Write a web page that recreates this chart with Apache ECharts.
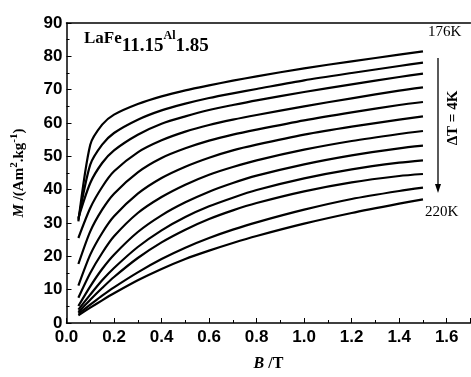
<!DOCTYPE html>
<html>
<head>
<meta charset="utf-8">
<script src="https://cdn.jsdelivr.net/npm/echarts@6/dist/echarts.min.js"></script>
<style>
  html, body { margin: 0; padding: 0; background: #fff; }
  #main { width: 471px; height: 377px; }
</style>
</head>
<body>
<div id="main"></div>
<script>
// 磁场 B (T)
var fields = [0.05, 0.1, 0.15, 0.2, 0.3, 0.4, 0.5, 0.6, 0.7, 0.8, 1.0, 1.2, 1.4, 1.5];
// 温度 176K ~ 220K, 间隔 4K
var temps = [176, 180, 184, 188, 192, 196, 200, 204, 208, 212, 216, 220];
// 各温度的磁化强度 M
var m176 = [30.5, 53.5, 59.5, 62.5, 65.7, 68.0, 69.8, 71.3, 72.7, 74.0, 76.4, 78.5, 80.5, 81.5];
var m180 = [31.0, 47.5, 53.5, 57.0, 61.0, 63.8, 65.8, 67.5, 68.9, 70.2, 72.8, 75.0, 77.1, 78.1];
var m184 = [31.5, 42.0, 48.0, 51.8, 56.5, 59.8, 62.0, 63.9, 65.4, 66.8, 69.3, 71.6, 73.8, 74.8];
var m188 = [25.5, 34.5, 40.8, 45.5, 51.2, 54.8, 57.4, 59.4, 61.0, 62.4, 65.0, 67.4, 69.7, 70.7];
var m192 = [17.7, 27.5, 34.0, 38.8, 45.2, 49.5, 52.4, 54.7, 56.5, 58.0, 60.8, 63.2, 65.4, 66.3];
var m196 = [11.2, 20.5, 27.0, 32.0, 38.8, 43.5, 46.9, 49.6, 51.8, 53.5, 56.5, 58.9, 61.0, 62.0];
var m200 = [7.6, 15.0, 21.0, 26.0, 33.0, 37.8, 41.5, 44.5, 46.8, 48.8, 52.0, 54.6, 56.7, 57.6];
var m204 = [5.1, 11.0, 16.2, 20.5, 27.3, 32.3, 36.2, 39.4, 42.0, 44.2, 47.6, 50.3, 52.4, 53.2];
var m208 = [4.0, 8.5, 12.8, 16.5, 22.8, 27.8, 31.8, 35.0, 37.6, 39.9, 43.4, 46.1, 48.1, 48.8];
var m212 = [3.3, 7.0, 10.5, 13.8, 19.5, 24.2, 28.0, 31.2, 33.8, 36.0, 39.5, 42.2, 44.1, 44.7];
var m216 = [2.8, 5.5, 8.2, 10.7, 15.2, 19.2, 22.6, 25.5, 28.0, 30.2, 34.0, 37.2, 39.6, 40.6];
var m220 = [2.3, 4.6, 6.8, 8.9, 12.8, 16.2, 19.2, 21.7, 24.0, 26.1, 29.8, 33.0, 35.8, 37.1];
var curves = [m176, m180, m184, m188, m192, m196, m200, m204, m208, m212, m216, m220];

var serif = '"Liberation Serif", "DejaVu Serif", serif';
var sans = '"Liberation Sans", Arial, sans-serif';

var series = curves.map(function (m, i) {
    return {
        name: temps[i] + 'K',
        type: 'line',
        smooth: 0.25,
        showSymbol: false,
        lineStyle: { color: '#000', width: 2.2 },
        data: fields.map(function (b, j) { return [b, m[j]]; })
    };
});

var option = {
    animation: false,
    backgroundColor: '#fff',
    grid: { left: 66.5, right: 0.5, top: 23, bottom: 48 },
    xAxis: [
        {
            type: 'value',
            min: 0, max: 1.7, interval: 0.2,
            name: '{i|B} /T',
            nameLocation: 'middle',
            nameGap: 33,
            nameTextStyle: {
                fontFamily: serif, fontSize: 16, fontWeight: 'bold', color: '#000',
                rich: { i: { fontFamily: serif, fontSize: 16, fontWeight: 'bold', fontStyle: 'italic', color: '#000' } }
            },
            axisLine: { lineStyle: { color: '#000', width: 1.5 } },
            axisTick: { inside: true, length: 5, lineStyle: { color: '#000' } },
            minorTick: { show: true, splitNumber: 2, length: 3, lineStyle: { color: '#000' } },
            splitLine: { show: false },
            axisLabel: {
                showMaxLabel: false, margin: 6,
                fontFamily: sans, fontSize: 17, fontWeight: 'bold', color: '#000',
                formatter: function (v) { return v.toFixed(1); }
            }
        },
        {
            type: 'value', position: 'top', min: 0, max: 1.7,
            axisLine: { show: true, lineStyle: { color: '#000', width: 1.5 } },
            axisTick: { show: false }, axisLabel: { show: false }, splitLine: { show: false }
        }
    ],
    yAxis: {
        type: 'value',
        min: 0, max: 90, interval: 10,
        name: '{i|M} /(Am{sup|2}.kg{sup|-1})',
        nameLocation: 'middle',
        nameGap: 36,
        nameTextStyle: {
            fontFamily: serif, fontSize: 15, fontWeight: 'bold', color: '#000',
            rich: {
                i: { fontFamily: serif, fontSize: 15, fontWeight: 'bold', fontStyle: 'italic', color: '#000' },
                sup: { fontFamily: serif, fontSize: 11, fontWeight: 'bold', color: '#000', verticalAlign: 'top', lineHeight: 22 }
            }
        },
        axisLine: { show: true, lineStyle: { color: '#000', width: 1.5 } },
        axisTick: { inside: true, length: 5, lineStyle: { color: '#000' } },
        minorTick: { show: true, splitNumber: 2, length: 3, lineStyle: { color: '#000' } },
        splitLine: { show: false },
        axisLabel: { margin: 4, fontFamily: sans, fontSize: 17, fontWeight: 'bold', color: '#000' }
    },
    graphic: [
        {
            type: 'text', left: 84, top: 30,
            style: {
                text: '{a|LaFe}{b|11.15}{c|Al}{b|1.85}',
                rich: {
                    a: { fontFamily: serif, fontSize: 17, fontWeight: 'bold', fill: '#000', verticalAlign: 'top', lineHeight: 18 },
                    b: { fontFamily: serif, fontSize: 19, fontWeight: 'bold', fill: '#000', verticalAlign: 'bottom', lineHeight: 26 },
                    c: { fontFamily: serif, fontSize: 12, fontWeight: 'bold', fill: '#000', verticalAlign: 'top', lineHeight: 14 }
                }
            }
        },
        { type: 'text', left: 428, top: 25, style: { text: '176K', fontFamily: serif, fontSize: 15, fill: '#000' } },
        { type: 'text', left: 425, top: 205, style: { text: '220K', fontFamily: serif, fontSize: 15, fill: '#000' } },
        { type: 'line', shape: { x1: 438, y1: 58, x2: 438, y2: 186 }, style: { stroke: '#000', lineWidth: 1.3 } },
        { type: 'polygon', shape: { points: [[435, 184], [441, 184], [438, 193]] }, style: { fill: '#000' } },
        {
            type: 'text', x: 453, y: 118, rotation: Math.PI / 2,
            style: { text: 'ΔT = 4K', fontFamily: serif, fontSize: 15, fontWeight: 'bold', fill: '#000', align: 'center', verticalAlign: 'middle' }
        }
    ],
    series: series
};

var chart = echarts.init(document.getElementById('main'));
chart.setOption(option);
</script>
</body>
</html>
